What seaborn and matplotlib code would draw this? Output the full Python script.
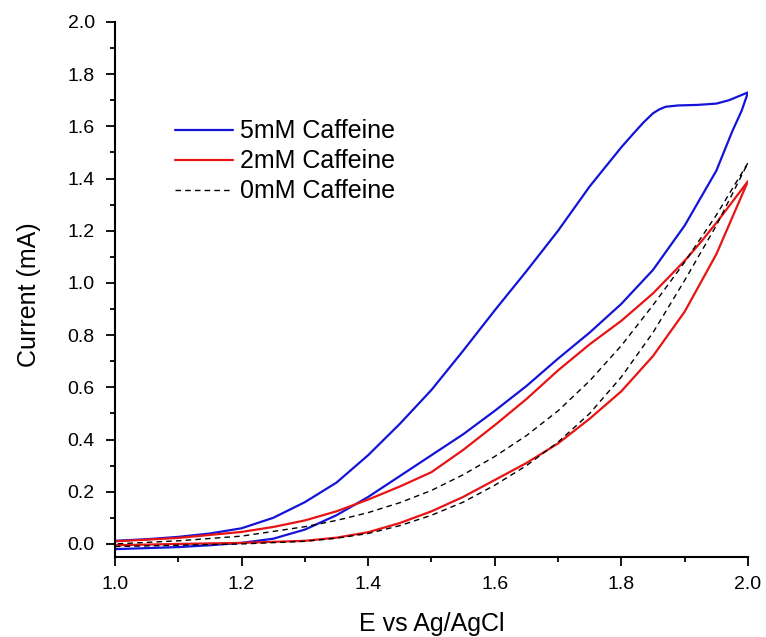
import numpy as np
import pandas as pd
import seaborn as sns
import matplotlib.pyplot as plt
from matplotlib.ticker import MultipleLocator

# 5mM caffeine: forward (lower) sweep then reverse (upper) sweep
e5_fwd = [1.0, 1.05, 1.1, 1.15, 1.2, 1.25, 1.3, 1.35, 1.4, 1.45, 1.5, 1.55, 1.6, 1.65, 1.7, 1.75, 1.8,
          1.85, 1.9, 1.95, 1.975, 1.99, 2.0]
i5_fwd = [-0.02, -0.016, -0.012, -0.005, 0.004, 0.02, 0.055, 0.11, 0.18, 0.26, 0.34, 0.42, 0.51, 0.605,
          0.71, 0.81, 0.92, 1.05, 1.22, 1.43, 1.58, 1.66, 1.73]
e5_rev = [2.0, 1.99, 1.97, 1.95, 1.92, 1.89, 1.87, 1.86, 1.85, 1.835, 1.82, 1.8, 1.775, 1.75, 1.725, 1.7,
          1.65, 1.6, 1.55, 1.5, 1.45, 1.4, 1.35, 1.3, 1.25, 1.2, 1.15, 1.1, 1.05, 1.0]
i5_rev = [1.73, 1.72, 1.70, 1.687, 1.682, 1.68, 1.675, 1.665, 1.65, 1.615, 1.575, 1.52, 1.445, 1.37, 1.285,
          1.20, 1.045, 0.895, 0.74, 0.59, 0.46, 0.34, 0.235, 0.16, 0.10, 0.06, 0.04, 0.027, 0.018, 0.012]

# 2mM caffeine
e2_fwd = [1.0, 1.1, 1.2, 1.3, 1.35, 1.4, 1.45, 1.5, 1.55, 1.6, 1.65, 1.7, 1.75, 1.8, 1.85, 1.9, 1.95,
          1.975, 2.0]
i2_fwd = [-0.005, 0.0, 0.004, 0.012, 0.024, 0.045, 0.08, 0.125, 0.18, 0.245, 0.31, 0.385, 0.48, 0.585,
          0.72, 0.89, 1.11, 1.25, 1.39]
e2_rev = [2.0, 1.975, 1.95, 1.925, 1.9, 1.85, 1.8, 1.75, 1.7, 1.65, 1.6, 1.55, 1.5, 1.45, 1.4, 1.35,
          1.3, 1.25, 1.2, 1.1, 1.0]
i2_rev = [1.39, 1.31, 1.23, 1.155, 1.085, 0.96, 0.855, 0.765, 0.665, 0.555, 0.455, 0.36, 0.275, 0.22,
          0.17, 0.125, 0.09, 0.065, 0.046, 0.023, 0.01]

# 0mM caffeine
e0_fwd = [1.0, 1.1, 1.2, 1.3, 1.35, 1.4, 1.45, 1.5, 1.55, 1.6, 1.65, 1.7, 1.75, 1.8, 1.85, 1.9, 1.95, 2.0]
i0_fwd = [-0.01, -0.005, 0.0, 0.01, 0.022, 0.04, 0.07, 0.11, 0.16, 0.225, 0.30, 0.39, 0.50, 0.64, 0.81,
          1.01, 1.22, 1.46]
e0_rev = [2.0, 1.95, 1.9, 1.85, 1.8, 1.75, 1.7, 1.65, 1.6, 1.55, 1.5, 1.45, 1.4, 1.35, 1.3, 1.2, 1.1, 1.0]
i0_rev = [1.46, 1.26, 1.08, 0.915, 0.76, 0.625, 0.51, 0.415, 0.335, 0.265, 0.205, 0.158, 0.12, 0.09,
          0.066, 0.03, 0.012, 0.0]

labels = ["5mM Caffeine", "2mM Caffeine", "0mM Caffeine"]

sns.set_style("ticks")
plt.rcParams["font.family"] = ["Liberation Sans", "DejaVu Sans"]
plt.rcParams["text.color"] = "black"
plt.rcParams["axes.labelcolor"] = "black"

fig = plt.figure(figsize=(7.66, 6.37), dpi=100)
ax = fig.add_axes([0.150, 0.1256, 0.8265, 0.84])

df5 = pd.DataFrame({"E": e5_fwd + e5_rev, "I": i5_fwd + i5_rev})
df2 = pd.DataFrame({"E": e2_fwd + e2_rev, "I": i2_fwd + i2_rev})
df0 = pd.DataFrame({"E": e0_fwd + e0_rev, "I": i0_fwd + i0_rev})

sns.lineplot(data=df5, x="E", y="I", sort=False, estimator=None, color="#1414d8",
             linewidth=1.6, label=labels[0], ax=ax)
sns.lineplot(data=df2, x="E", y="I", sort=False, estimator=None, color="#e81414",
             linewidth=1.6, label=labels[1], ax=ax)
sns.lineplot(data=df0, x="E", y="I", sort=False, estimator=None, color="black",
             linewidth=1.0, label=labels[2], ax=ax)
ax.lines[2].set_dashes([4, 3])
for ln in ax.lines:
    ln.set_solid_joinstyle("round")
    ln.set_dash_joinstyle("round")

ax.set_xlim(1.0, 2.0)
ax.set_ylim(-0.05, 2.0)
ax.xaxis.set_major_locator(MultipleLocator(0.2))
ax.xaxis.set_minor_locator(MultipleLocator(0.1))
ax.yaxis.set_major_locator(MultipleLocator(0.2))
ax.yaxis.set_minor_locator(MultipleLocator(0.1))
ax.xaxis.set_major_formatter(plt.FormatStrFormatter("%.1f"))
ax.yaxis.set_major_formatter(plt.FormatStrFormatter("%.1f"))
ax.tick_params(which="major", direction="out", length=6.5, width=1.3,
               labelsize=14, colors="black")
ax.tick_params(axis="x", which="major", pad=7)
ax.tick_params(axis="y", which="major", pad=8)
ax.tick_params(which="minor", direction="out", length=3.6, width=1.3, colors="black")
for side in ["left", "bottom"]:
    ax.spines[side].set_linewidth(1.5)
    ax.spines[side].set_color("black")
sns.despine(ax=ax)

ax.set_xlabel("E vs Ag/AgCl", fontsize=18, va="top")
ax.xaxis.set_label_coords(0.5, -0.103)
ax.set_ylabel("Current (mA)", fontsize=18)
ax.yaxis.set_label_coords(-0.116, 0.49)

leg = ax.legend(frameon=False, fontsize=18, handlelength=2.3, handletextpad=0.3,
                labelspacing=0.24, borderpad=0, borderaxespad=0,
                loc="upper left", bbox_to_anchor=(0.095, 0.818))
for t in leg.get_texts():
    t.set_color("black")

fig.savefig("out.png", dpi=100)
